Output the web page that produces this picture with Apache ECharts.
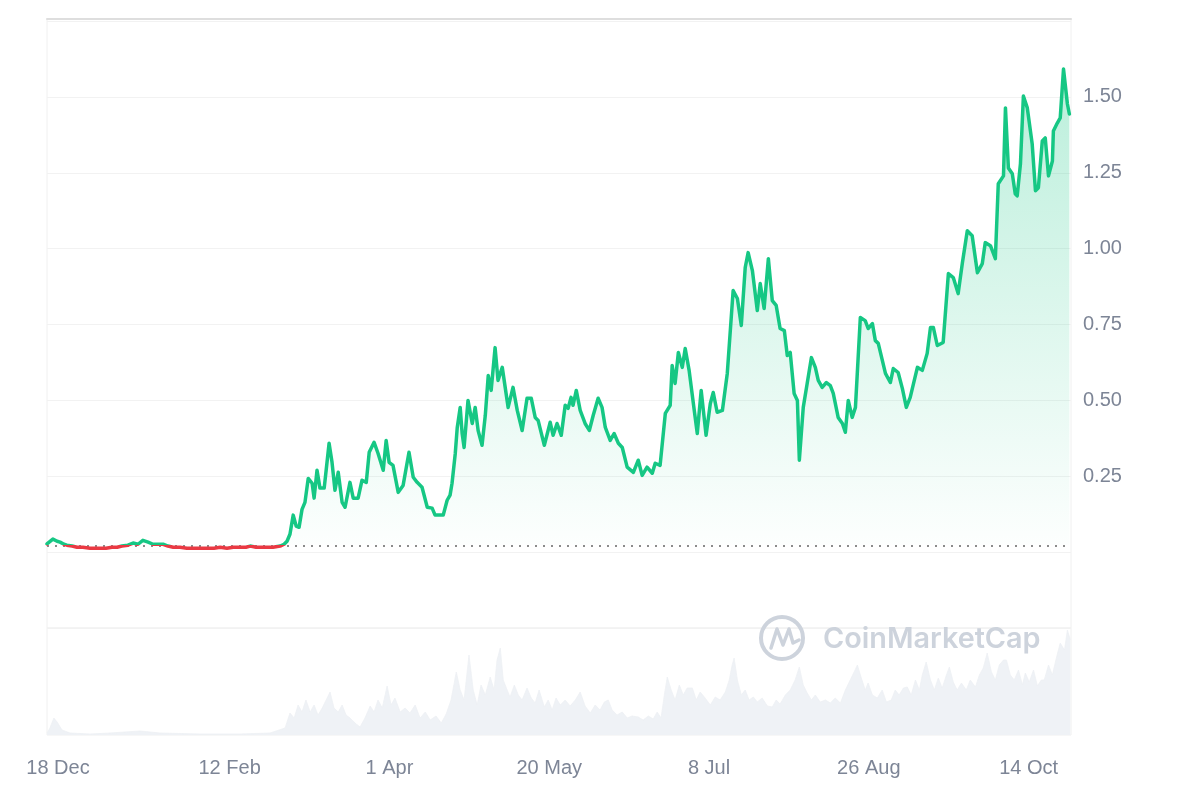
<!DOCTYPE html>
<html>
<head>
<meta charset="utf-8">
<script src="https://cdn.jsdelivr.net/npm/echarts@6/dist/echarts.min.js"></script>
<style>
  html, body { margin: 0; padding: 0; background: #ffffff; }
  #chart { width: 1200px; height: 800px; }
</style>
</head>
<body>
<div id="chart"></div>
<script>
// Days since 18 Dec 2023 and price (USD)
const priceDays = [0.0,0.6,1.8,3.1,4.0,5.2,6.1,7.7,9.2,11.0,13.2,15.0,16.3,18.1,19.9,21.5,23.0,24.8,26.4,27.9,29.4,31.0,32.5,34.0,35.6,37.1,38.7,40.8,42.9,44.8,46.9,49.1,51.2,53.1,55.2,57.1,59.2,61.0,62.3,64.1,66.0,67.5,69.3,71.5,72.7,73.6,74.5,75.5,76.4,77.3,78.2,79.1,80.1,81.3,81.9,82.8,83.7,85.0,85.6,86.5,87.4,88.3,89.3,90.5,91.4,92.9,93.9,95.4,96.6,97.9,98.8,100.3,101.5,103.1,104.0,104.9,106.1,107.7,109.2,111.0,112.3,113.5,115.0,116.6,118.1,119.0,120.6,121.5,122.7,123.6,124.2,125.2,125.8,126.7,127.3,127.9,129.1,130.4,131.3,132.2,133.4,134.4,135.3,136.2,137.4,138.3,139.6,140.5,141.4,142.9,144.2,145.7,147.2,148.5,149.7,150.6,152.5,154.3,155.2,156.4,157.7,158.9,159.8,160.7,161.3,162.3,163.5,165.0,166.3,167.5,169.0,170.2,171.2,172.7,173.9,175.2,176.4,177.9,179.8,181.3,182.5,184.0,185.6,186.5,188.0,189.6,191.1,191.7,192.6,193.6,194.8,195.7,196.9,198.2,199.4,200.6,202.1,203.4,204.3,205.5,207.1,208.6,210.4,211.7,212.9,214.1,215.0,216.3,217.8,218.7,219.9,221.2,222.4,223.6,224.8,226.1,227.0,227.9,229.1,230.1,230.7,231.9,233.1,234.4,235.6,236.5,237.7,239.0,240.2,241.1,242.6,243.9,244.8,245.7,246.9,247.9,249.4,250.9,251.8,253.1,254.0,254.9,257.1,258.6,259.5,261.0,262.3,263.5,264.7,266.9,268.4,269.9,270.9,271.8,273.0,274.8,276.4,277.9,279.4,280.7,282.2,283.7,285.3,286.8,287.7,289.3,290.8,291.7,293.3,293.9,294.8,296.0,296.9,297.5,298.5,299.4,300.6,301.2,302.1,303.1,304.0,305.2,306.1,307.1,308.3,308.6,309.8,310.7,311.7,312.9,313.5];
const prices = [0.027,0.033,0.043,0.036,0.033,0.026,0.023,0.020,0.016,0.016,0.013,0.013,0.013,0.013,0.016,0.016,0.020,0.023,0.030,0.026,0.039,0.033,0.026,0.026,0.026,0.020,0.016,0.016,0.013,0.013,0.013,0.013,0.013,0.016,0.013,0.016,0.016,0.016,0.020,0.016,0.016,0.016,0.016,0.020,0.026,0.036,0.059,0.122,0.086,0.082,0.141,0.164,0.243,0.227,0.178,0.270,0.211,0.211,0.270,0.359,0.296,0.204,0.263,0.164,0.148,0.230,0.178,0.178,0.237,0.230,0.329,0.362,0.326,0.270,0.368,0.296,0.286,0.197,0.220,0.329,0.247,0.230,0.214,0.148,0.145,0.122,0.122,0.122,0.171,0.188,0.227,0.326,0.411,0.477,0.391,0.345,0.500,0.424,0.477,0.401,0.352,0.451,0.582,0.533,0.674,0.566,0.609,0.543,0.477,0.543,0.467,0.401,0.507,0.507,0.444,0.434,0.352,0.428,0.385,0.424,0.385,0.484,0.474,0.510,0.484,0.533,0.467,0.424,0.401,0.451,0.507,0.477,0.411,0.368,0.391,0.359,0.345,0.280,0.263,0.303,0.253,0.280,0.260,0.293,0.286,0.457,0.484,0.615,0.556,0.658,0.609,0.671,0.599,0.490,0.391,0.533,0.385,0.490,0.526,0.461,0.467,0.589,0.862,0.836,0.747,0.938,0.987,0.928,0.796,0.885,0.803,0.967,0.829,0.813,0.737,0.730,0.648,0.658,0.523,0.500,0.303,0.477,0.556,0.641,0.609,0.566,0.543,0.559,0.549,0.523,0.444,0.424,0.395,0.500,0.444,0.477,0.773,0.763,0.737,0.753,0.697,0.688,0.589,0.559,0.605,0.592,0.539,0.477,0.510,0.609,0.599,0.655,0.740,0.740,0.681,0.691,0.918,0.905,0.852,0.954,1.059,1.043,0.921,0.951,1.020,1.010,0.967,1.214,1.240,1.464,1.266,1.247,1.181,1.174,1.280,1.503,1.464,1.470,1.345,1.191,1.201,1.355,1.365,1.240,1.289,1.388,1.414,1.431,1.592,1.477,1.444];
// Opening price (dotted reference line)
const openPrice = 0.024;

// Days since 18 Dec 2023 and 24h volume (relative units)
const volumeDays = [0.0,0.9,2.1,3.1,4.6,7.1,13.2,19.3,23.9,28.5,34.7,46.9,59.2,68.4,73.0,74.5,75.8,77.0,78.2,79.4,80.7,81.9,83.1,84.4,85.6,86.8,88.0,89.3,90.5,91.7,92.9,94.8,96.0,97.5,99.1,100.3,101.5,102.8,104.3,105.5,106.7,108.3,109.8,111.3,112.9,114.4,116.0,117.5,119.3,120.9,122.4,123.9,125.5,126.7,127.9,129.4,130.7,131.9,133.1,134.4,135.9,137.1,138.0,139.0,139.9,141.1,142.0,143.3,144.5,145.7,147.2,148.5,149.7,150.9,152.5,153.7,154.9,156.1,157.4,158.9,160.4,162.0,163.5,165.0,166.6,168.1,169.6,170.9,172.1,173.3,174.8,176.4,177.9,179.4,181.3,182.8,184.4,185.9,187.1,188.3,189.3,190.2,191.4,192.6,193.9,195.1,196.3,197.9,199.1,200.3,201.8,203.4,204.9,206.4,208.0,209.2,210.1,210.7,211.7,212.9,214.1,215.3,216.6,217.8,219.3,220.9,222.4,223.6,224.8,226.4,227.9,229.4,230.7,231.9,233.1,234.4,235.6,237.1,238.7,240.2,241.7,243.3,244.8,246.3,247.5,248.5,249.7,250.9,251.8,253.1,254.6,256.1,257.4,258.9,260.1,261.3,262.6,263.8,265.0,266.3,267.5,268.4,269.6,270.9,272.1,273.3,274.5,275.8,276.7,277.9,279.1,280.4,281.9,283.1,284.7,285.9,287.1,288.3,289.6,290.8,292.0,293.3,294.2,295.4,296.6,297.9,299.1,300.0,301.2,302.5,303.7,304.9,305.8,307.1,308.3,309.5,310.7,312.0,312.9,313.8];
const volumes = [2,7,17,13,5,2,1,2,3,4,2,1,1,2,7,22,17,30,23,35,23,30,20,27,35,43,27,23,30,20,17,11,8,17,29,23,35,27,49,30,37,23,27,22,30,17,23,15,19,12,21,35,63,45,35,80,45,30,50,40,58,45,75,87,55,45,38,50,40,35,47,37,32,45,28,35,25,37,30,35,29,35,43,29,22,30,25,33,35,25,20,23,17,19,18,15,19,16,23,17,40,58,45,35,50,40,47,47,35,43,37,30,38,35,43,55,70,77,55,40,45,35,38,33,37,29,28,35,31,40,45,55,68,50,42,35,40,33,35,32,37,32,45,55,63,70,57,45,52,40,37,45,33,35,45,40,47,48,40,55,45,60,73,55,45,57,47,60,68,53,45,52,45,55,48,60,67,82,63,55,70,75,75,60,55,65,50,62,53,65,49,55,55,70,60,77,92,85,105,95];

// X-axis tick positions (days since 18 Dec 2023) and labels
const tickDays = [0, 56, 105, 154, 203, 252, 301];
const tickLabels = ['18 Dec', '12 Feb', '1 Apr', '20 May', '8 Jul', '26 Aug', '14 Oct'];

const GREEN = '#16c784';
const RED = '#ea3943';
const LABEL_COLOR = '#7d8596';
const FONT = 'Liberation Sans, Arial, sans-serif';

const priceData = priceDays.map((d, i) => [d, prices[i]]);
const volumeData = volumeDays.map((d, i) => [d, volumes[i]]);

const chart = echarts.init(document.getElementById('chart'), null, { renderer: 'canvas' });

const option = {
  backgroundColor: '#ffffff',
  animation: false,
  grid: [
    { left: 47, right: 129, top: 19, height: 609, show: true, borderColor: '#f0f0f0', borderWidth: 1 },
    { left: 47, right: 129, top: 628, height: 107, show: true, borderColor: '#f0f0f0', borderWidth: 1 }
  ],
  xAxis: [
    {
      gridIndex: 0, type: 'value', min: 0, max: 314, position: 'top',
      axisLine: { show: true, onZero: false, lineStyle: { color: '#dedede', width: 2 } },
      axisTick: { show: false }, axisLabel: { show: false }, splitLine: { show: false }
    },
    {
      gridIndex: 1, type: 'value', min: 0, max: 314, interval: 7,
      axisLine: { show: false, onZero: false }, axisTick: { show: false }, splitLine: { show: false },
      axisLabel: {
        margin: 23,
        color: LABEL_COLOR,
        fontSize: 20,
        fontFamily: FONT,
        showMaxLabel: false,
        formatter: function (v) {
          const i = tickDays.indexOf(Math.round(v));
          if (i < 0 || Math.abs(v - tickDays[i]) > 0.01) return '';
          return i === 0 ? '{first|' + tickLabels[i] + '}' : tickLabels[i];
        },
        rich: {
          first: { padding: [0, 0, 0, 22], color: LABEL_COLOR, fontSize: 20, fontFamily: FONT }
        }
      }
    }
  ],
  yAxis: [
    {
      gridIndex: 0, type: 'value', position: 'right', min: -0.25, max: 1.757, interval: 0.25,
      axisLine: { show: false }, axisTick: { show: false },
      splitLine: { show: true, lineStyle: { color: '#f2f2f2', width: 1 } },
      axisLabel: {
        margin: 12, color: LABEL_COLOR, fontSize: 20, fontFamily: FONT,
        formatter: function (v) { return (v > 0.01 && v < 1.6) ? v.toFixed(2) : ''; }
      }
    },
    {
      gridIndex: 1, type: 'value', min: 0, max: 107,
      axisLine: { show: false }, axisTick: { show: false }, axisLabel: { show: false },
      splitLine: { show: false }
    }
  ],
  visualMap: {
    type: 'piecewise', show: false, seriesIndex: 0, dimension: 1,
    pieces: [
      { gt: -1, lte: openPrice, color: RED },
      { gt: openPrice, lte: 10, color: GREEN }
    ]
  },
  series: [
    {
      name: 'Price', type: 'line', xAxisIndex: 0, yAxisIndex: 0,
      data: priceData, showSymbol: false, smooth: false, z: 5,
      lineStyle: { width: 3.5, cap: 'round', join: 'round' },
      areaStyle: {
        origin: openPrice,
        color: new echarts.graphic.LinearGradient(0, 0, 0, 1, [
          { offset: 0, color: 'rgba(22,199,132,0.42)' },
          { offset: 1, color: 'rgba(22,199,132,0.01)' }
        ])
      },
      markLine: {
        silent: true, symbol: 'none', label: { show: false },
        lineStyle: { color: '#666666', type: [2, 6], width: 1.5 },
        data: [{ yAxis: openPrice }]
      }
    },
    {
      name: 'Volume', type: 'line', xAxisIndex: 1, yAxisIndex: 1,
      data: volumeData, showSymbol: false, z: 2,
      lineStyle: { width: 0.8, color: '#edf0f4' },
      areaStyle: { color: '#eff2f6', opacity: 1 }
    }
  ],
  graphic: [
    {
      type: 'circle', z: 100, silent: true,
      shape: { cx: 782, cy: 638, r: 21 },
      style: { fill: 'none', stroke: '#cdd3dc', lineWidth: 4 }
    },
    {
      type: 'polyline', z: 100, silent: true,
      shape: { points: [[771, 648], [777, 629], [783, 645], [789, 629], [793, 643], [799, 640]] },
      style: { fill: 'none', stroke: '#cdd3dc', lineWidth: 3.5, lineJoin: 'round', lineCap: 'round' }
    },
    {
      type: 'text', z: 100, silent: true, x: 823, y: 639,
      style: {
        text: 'CoinMarketCap', fill: '#cdd3dc',
        font: '600 28.8px Inter, "Noto Sans", sans-serif',
        verticalAlign: 'middle', align: 'left'
      }
    }
  ]
};

chart.setOption(option);
</script>
</body>
</html>
